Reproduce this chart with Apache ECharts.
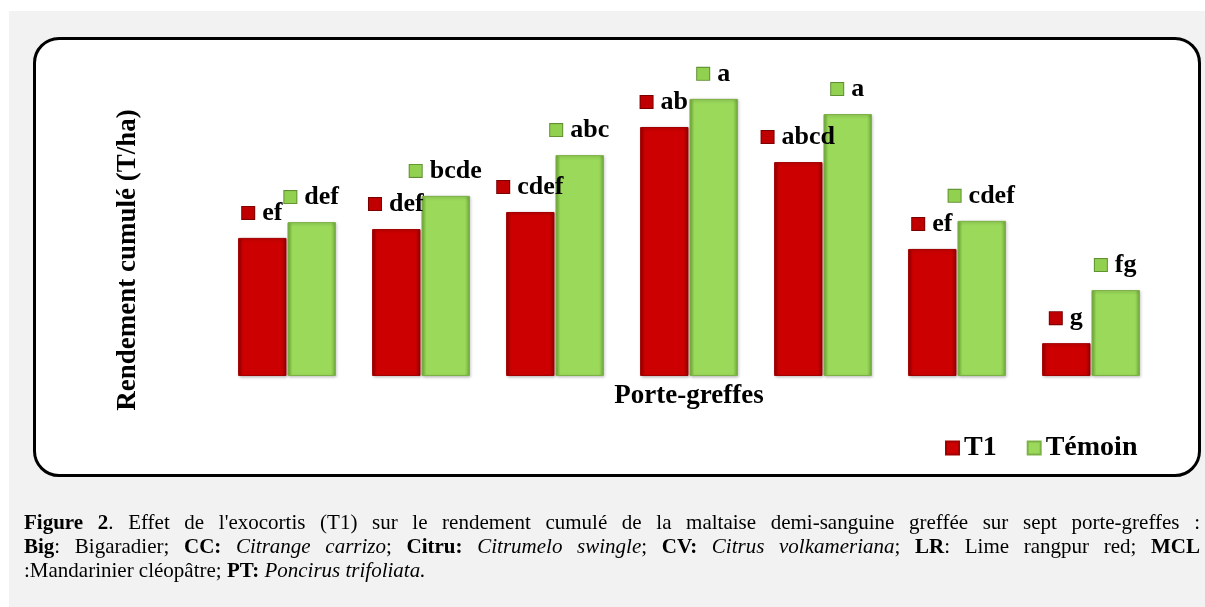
<!DOCTYPE html>
<html>
<head>
<meta charset="utf-8">
<script src="https://cdn.jsdelivr.net/npm/echarts@6/dist/echarts.min.js"></script>
<style>
  html, body { margin: 0; padding: 0; background: #fff; }
  #page { position: relative; width: 1205px; height: 607px; overflow: hidden; }
  #gray { position: absolute; left: 9px; top: 11px; right: 0; bottom: 0; background: #f2f2f2; }
  #box { position: absolute; left: 33px; top: 37px; width: 1162px; height: 434px;
         border: 3px solid #000; border-radius: 26px; background: #fff; }
  #main { position: absolute; left: 0; top: 0; width: 1205px; height: 607px; }
  #caption { position: absolute; left: 24px; top: 510px; width: 1176px;
             font-family: 'Liberation Serif', 'Times New Roman', serif; font-size: 21px;
             line-height: 24px; color: #000; }
  #caption .j { text-align: justify; text-align-last: justify; white-space: nowrap; }
</style>
</head>
<body>
<div id="page">
  <div id="gray"></div>
  <div id="box"></div>
  <div id="main"></div>
  <div id="caption">
    <div class="j"><b>Figure 2</b>. Effet de l'exocortis (T1) sur le rendement cumulé de la maltaise demi-sanguine greffée sur sept porte-greffes :</div>
    <div class="j"><b>Big</b>: Bigaradier; <b>CC:</b> <i>Citrange carrizo</i>; <b>Citru:</b> <i>Citrumelo swingle</i>; <b>CV:</b> <i>Citrus volkameriana</i>; <b>LR</b>: Lime rangpur red; <b>MCL</b></div>
    <div>:Mandarinier cléopâtre; <b>PT:</b> <i>Poncirus trifoliata.</i></div>
  </div>
</div>
<script>
  // porte-greffes (pas affichés sur l'axe)
  var categories = ['Big', 'CC', 'Citru', 'CV', 'LR', 'MCL', 'PT'];
  // rendement cumulé (T/ha)
  var t1Values = [43.7, 46.5, 51.9, 78.8, 67.7, 40.2, 10.4];
  var temoinValues = [48.7, 57.0, 69.9, 87.7, 82.9, 49.1, 27.2];
  // lettres de significativité
  var t1Letters = ['ef', 'def', 'cdef', 'ab', 'abcd', 'ef', 'g'];
  var temoinLetters = ['def', 'bcde', 'abc', 'a', 'a', 'cdef', 'fg'];

  var serif = "'Liberation Serif', 'Times New Roman', serif";

  function bevel(edge, face) {
    return new echarts.graphic.LinearGradient(0, 0, 1, 0, [
      {offset: 0, color: edge},
      {offset: 0.1, color: face},
      {offset: 0.9, color: face},
      {offset: 1, color: edge}
    ]);
  }

  function makeLabel(letters, markColor, markBorder) {
    return {
      show: true,
      position: 'top',
      distance: 12,
      formatter: function (p) {
        return '{m|}{t|' + letters[p.dataIndex] + '}';
      },
      rich: {
        m: {width: 12, height: 12, backgroundColor: markColor, borderColor: markBorder, borderWidth: 1},
        t: {fontFamily: serif, fontWeight: 'bold', fontSize: 26, color: '#000', padding: [0, 0, 0, 8]}
      }
    };
  }

  var myChart = echarts.init(document.getElementById('main'), null, {renderer: 'canvas'});

  var option = {
    animation: false,
    backgroundColor: 'transparent',
    grid: {left: 220, right: 47, top: 60, bottom: 231},
    legend: {
      left: 945,
      top: 434,
      padding: 0,
      icon: 'rect',
      itemWidth: 13,
      itemHeight: 13,
      itemGap: 30,
      textStyle: {fontFamily: serif, fontWeight: 'bold', fontSize: 28, color: '#000'},
      data: ['T1', 'Témoin']
    },
    xAxis: {
      type: 'category',
      data: categories,
      axisLine: {show: false},
      axisTick: {show: false},
      axisLabel: {show: false}
    },
    yAxis: {
      type: 'value',
      min: 0,
      max: 100,
      show: false,
      splitLine: {show: false}
    },
    series: [
      {
        name: 'T1',
        type: 'bar',
        data: t1Values,
        barGap: '2%',
        barCategoryGap: '27%',
        itemStyle: {color: bevel('#8e0000', '#cc0000'), borderColor: '#a30000', borderWidth: 1,
          shadowColor: 'rgba(0,0,0,0.25)', shadowBlur: 3, shadowOffsetX: 1, shadowOffsetY: 1},
        label: makeLabel(t1Letters, '#c00000', '#7a0000')
      },
      {
        name: 'Témoin',
        type: 'bar',
        data: temoinValues,
        itemStyle: {color: bevel('#6fa83a', '#9ad95a'), borderColor: '#7cb145', borderWidth: 1,
          shadowColor: 'rgba(0,0,0,0.25)', shadowBlur: 3, shadowOffsetX: 1, shadowOffsetY: 1},
        label: makeLabel(temoinLetters, '#92d050', '#5f8f30')
      }
    ],
    color: ['#c00000', '#92d050'],
    graphic: [
      {
        type: 'text',
        x: 128, y: 260,
        rotation: Math.PI / 2,
        style: {text: 'Rendement cumulé (T/ha)', fontFamily: serif, fontWeight: 'bold', fontSize: 27,
          fill: '#000', align: 'center', verticalAlign: 'middle'}
      },
      {
        type: 'text',
        x: 689, y: 396,
        style: {text: 'Porte-greffes', fontFamily: serif, fontWeight: 'bold', fontSize: 27,
          fill: '#000', align: 'center', verticalAlign: 'middle'}
      }
    ]
  };

  myChart.setOption(option);
  window.onresize = function () {
    myChart.resize();
  };
</script>
</body>
</html>
